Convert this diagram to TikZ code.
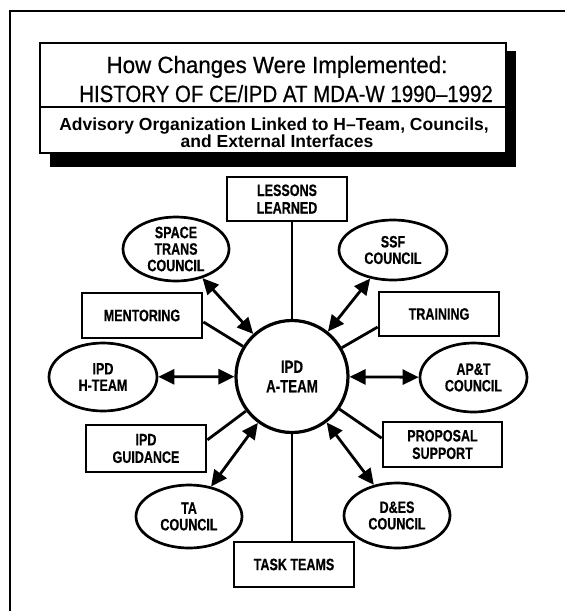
\documentclass[tikz,border=0pt]{standalone}
\usepackage{fontspec}
\setmainfont{Liberation Sans}
\newfontfamily\labelfont[FakeStretch=0.76,FakeBold=0.5]{Liberation Sans}
\newfontfamily\titlefont[FakeStretch=0.87,FakeBold=0.6]{Liberation Sans}
\newfontfamily\howfont[FakeStretch=0.95,FakeBold=0.6]{Liberation Sans}
\newfontfamily\subfont[FakeStretch=1.0]{Liberation Sans}
\usetikzlibrary{shapes.geometric,arrows.meta,calc}
\tikzset{
  box/.style={draw, line width=2.8pt, rectangle, inner sep=0pt, align=center,
    font=\labelfont\bfseries\fontsize{16.5}{17.5}\selectfont},
  council/.style={draw, line width=2.7pt, ellipse, inner sep=0pt, align=center,
    font=\labelfont\bfseries\fontsize{16.5}{16.5}\selectfont},
  hub/.style={draw, line width=3.2pt, circle, inner sep=0pt, minimum size=112pt, align=center,
    font=\labelfont\bfseries\fontsize{17.5}{19.5}\selectfont},
  link/.style={line width=2.8pt},
  twoway/.style={line width=2.8pt, {Triangle[length=16pt,width=15pt]}-{Triangle[length=16pt,width=15pt]}},
  ttl/.style={inner sep=0pt, anchor=base}
}
\begin{document}
\begin{tikzpicture}[x=1pt,y=-1pt]
\useasboundingbox (0,0) rectangle (565,611);
% outer frame (left and top edges)
\draw[line width=2pt] (10,611) -- (10,11) -- (565,11);
% title box with shadow
\fill[black] (50,51) rectangle (516,167);
\draw[line width=2.2pt, fill=white] (40,43) rectangle (506,153);
\draw[line width=2pt] (40,107) -- (506,107);
\node[ttl, font=\howfont\fontsize{23.5}{28}\selectfont] (t1) at (277,73) {How Changes Were Implemented:};
\node[ttl, font=\titlefont\fontsize{23.5}{28}\selectfont] (t2) at (286,102) {HISTORY OF CE/IPD AT MDA-W 1990–1992};
\node[ttl, font=\subfont\bfseries\fontsize{17.5}{20}\selectfont] (s1) at (274,130) {Advisory Organization Linked to H–Team, Councils,};
\node[ttl, font=\subfont\bfseries\fontsize{17.5}{20}\selectfont] (s2) at (277,147) {and External Interfaces};

% hub
\node[hub] (ateam) at (292,376.5) {IPD\\A-TEAM};
% boxes
\node[box, minimum width=120pt, minimum height=44pt] (lessons) at (287,199) {LESSONS\\LEARNED};
\node[box, minimum width=120pt, minimum height=45pt] (mentoring) at (142,315.5) {MENTORING};
\node[box, minimum width=120pt, minimum height=44pt] (training) at (439,314) {TRAINING};
\node[box, minimum width=120pt, minimum height=47pt] (guidance) at (146,448.5) {IPD\\GUIDANCE};
\node[box, minimum width=119pt, minimum height=45pt] (proposal) at (442.5,444.5) {PROPOSAL\\SUPPORT};
\node[box, minimum width=120pt, minimum height=45pt] (tasks) at (294,564.5) {TASK TEAMS};
% councils
\node[council, minimum width=106pt, minimum height=64pt] (spacetrans) at (176,249) {SPACE\\TRANS\\COUNCIL};
\node[council, minimum width=108pt, minimum height=60pt] (ssf) at (393,250) {SSF\\COUNCIL};
\node[council, minimum width=108pt, minimum height=68pt] (hteam) at (103,377) {IPD\\H-TEAM};
\node[council, minimum width=107pt, minimum height=69pt] (apt) at (473.5,377.5) {AP\&T\\COUNCIL};
\node[council, minimum width=106pt, minimum height=63pt] (ta) at (189,516.5) {TA\\COUNCIL};
\node[council, minimum width=106pt, minimum height=65pt] (des) at (397,515.5) {D\&ES\\COUNCIL};

% plain links
\draw[link] (ateam.north) -- (ateam.north |- lessons.south);
\draw[link] (ateam.south) -- (ateam.south |- tasks.north);
\draw[link] (mentoring.-6) -- (ateam);
\draw[link] (training.192) -- (ateam);
\draw[link] (guidance.8) -- (ateam);
\draw[link] (proposal.174) -- (ateam);
% two-way links
\draw[twoway] (spacetrans) -- (ateam);
\draw[twoway] (ssf) -- (ateam);
\draw[twoway] (hteam) -- (ateam);
\draw[twoway] (apt) -- (ateam);
\draw[twoway] (ta) -- (ateam);
\draw[twoway] (des) -- (ateam);
\end{tikzpicture}
\end{document}
